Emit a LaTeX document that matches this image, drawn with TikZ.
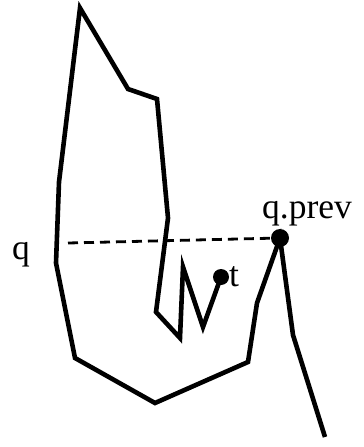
\documentclass[tikz,border=0pt]{standalone}
\usepackage{fontspec}
\setmainfont{Liberation Serif}
\begin{document}
\begin{tikzpicture}[x=1pt,y=-1pt,
  curve/.style={line width=4.6pt,line join=miter,line cap=butt},
  dotstyle/.style={circle,fill=black,inner sep=0pt,minimum size=16pt},
  lbl/.style={font=\fontsize{35.5}{36}\selectfont,inner sep=0pt,anchor=base west}]
\useasboundingbox (0,0) rectangle (364,447);
\node[dotstyle] (t) at (221,277) {};
\node[dotstyle,minimum size=18pt] (qp) at (280,238) {};
\coordinate (qs) at (68,243);
\coordinate (e) at (325,437);
\draw[curve] (t.center) -- (203,327) -- (183,267) -- (180,338) -- (156,312) -- (168,218) -- (157,99) -- (128,89) -- (80,8) -- (59,182) -- (56,263) -- (75,358) -- (155,403) -- (248,362) -- (257,303) -- (qp.center) -- (293,335) -- (e);
\draw[line width=2.8pt,dash pattern=on 10pt off 6pt] (qs) -- (qp.center);
\node[lbl] (ql) at (12,259) {q};
\node[lbl] (qpl) at (262,218) {q.prev};
\node[lbl] (tl) at (229,286) {t};
\end{tikzpicture}
\end{document}
